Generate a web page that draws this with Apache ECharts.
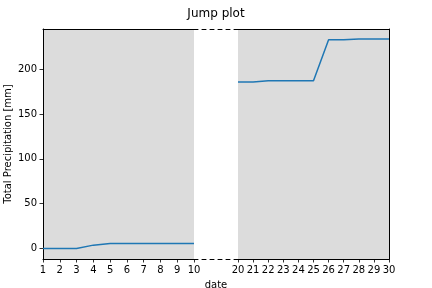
<!DOCTYPE html>
<html><head><meta charset="utf-8">
<script src="https://cdn.jsdelivr.net/npm/echarts@6/dist/echarts.min.js"></script>
<style>html,body{margin:0;padding:0;background:#fff}#c{width:432px;height:288px}</style>
</head><body><div id="c"></div>
<script>
var leftDates = [1,2,3,4,5,6,7,8,9,10];
var leftValues = [0,0,0,3.8,5.6,5.6,5.6,5.6,5.6,5.6];
var rightDates = [20,21,22,23,24,25,26,27,28,29,30];
var rightValues = [185.5,185.5,187,187,187,187,232.7,232.7,233.5,233.5,233.5];
var yTicks = [0,50,100,150,200];
var yMin = -11.65, yMax = 244.65;

var F = 'DejaVu Sans';
var chart = echarts.init(document.getElementById('c'), null, {renderer:'canvas'});
function pairs(xs, ys){ return xs.map(function(x,i){return [x, ys[i]];}); }
var black = {color:'#000', width:1};
var tick = {show:true, length:3.5, lineStyle:{color:'#000', width:0.8}};
var lbl = {color:'#000', fontFamily:F, fontSize:10};
var none = {show:false};
var dash = {color:'#000', width:1, type:[4,4]};
function line(style){ return {show:true, onZero:false, lineStyle:style}; }

chart.setOption({
  animation:false,
  title:{text:'Jump plot', left:'center', top:3, textStyle:{fontFamily:F, fontSize:12, fontWeight:'normal', color:'#000'}},
  grid:[
    {left:43, right:238, top:29, bottom:29, show:true, backgroundColor:'#dcdcdc', borderWidth:0, outerBoundsMode:'none'},
    {left:238, right:43, top:29, bottom:29, show:true, backgroundColor:'#dcdcdc', borderWidth:0, outerBoundsMode:'none'},
    {left:194, right:194, top:29, bottom:29, show:false, outerBoundsMode:'none'}
  ],
  xAxis:[
    {gridIndex:0, type:'value', min:1, max:10, interval:1, position:'bottom',
     axisLine:line(black), axisTick:tick, axisLabel:Object.assign({margin:6}, lbl), splitLine:none},
    {gridIndex:1, type:'value', min:20, max:30, interval:1, position:'bottom',
     axisLine:line(black), axisTick:tick, axisLabel:Object.assign({margin:6}, lbl), splitLine:none},
    {gridIndex:0, type:'value', min:1, max:10, position:'top',
     axisLine:line(black), axisTick:none, axisLabel:none, splitLine:none},
    {gridIndex:1, type:'value', min:20, max:30, position:'top',
     axisLine:line(black), axisTick:none, axisLabel:none, splitLine:none},
    {gridIndex:2, type:'value', min:0, max:1, position:'bottom', name:'date', nameLocation:'middle', nameGap:21.5,
     nameTextStyle:{fontFamily:F, fontSize:10, color:'#000'},
     axisLine:line(dash), axisTick:none, axisLabel:none, splitLine:none},
    {gridIndex:2, type:'value', min:0, max:1, position:'top',
     axisLine:line(dash), axisTick:none, axisLabel:none, splitLine:none}
  ],
  yAxis:[
    {gridIndex:0, type:'value', min:yMin, max:yMax, position:'left',
     name:'Total Precipitation [mm]', nameLocation:'middle', nameGap:30,
     nameTextStyle:{fontFamily:F, fontSize:10, color:'#000'},
     axisLine:line(black),
     axisTick:{show:true, length:3.5, lineStyle:{color:'#000', width:0.8}, customValues:yTicks},
     axisLabel:Object.assign({margin:6, customValues:yTicks}, lbl), splitLine:none},
    {gridIndex:1, type:'value', min:yMin, max:yMax, position:'right',
     axisLine:line(black), axisTick:none, axisLabel:none, splitLine:none},
    {gridIndex:2, type:'value', min:0, max:1, show:false}
  ],
  series:[
    {type:'line', xAxisIndex:0, yAxisIndex:0, data:pairs(leftDates, leftValues), showSymbol:false, symbol:'none',
     lineStyle:{color:'#1f77b4', width:1.5}},
    {type:'line', xAxisIndex:1, yAxisIndex:1, data:pairs(rightDates, rightValues), showSymbol:false, symbol:'none',
     lineStyle:{color:'#1f77b4', width:1.5}}
  ]
});
</script></body></html>
